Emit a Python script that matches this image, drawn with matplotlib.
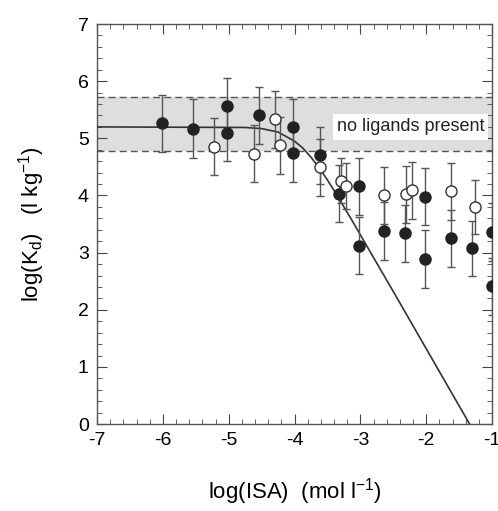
import numpy as np
import matplotlib
matplotlib.use("Agg")
import matplotlib.pyplot as plt
from matplotlib.ticker import MultipleLocator

plt.rcParams["font.family"] = ["Liberation Sans", "DejaVu Sans"]
plt.rcParams["axes.unicode_minus"] = False
plt.rcParams["mathtext.fontset"] = "custom"
plt.rcParams["mathtext.rm"] = "Liberation Sans"
plt.rcParams["mathtext.it"] = "Liberation Sans:italic"

# filled circles: log(ISA), log(Kd), error
filled_x = [-6.02, -5.55, -5.02, -5.02, -4.54, -4.02, -4.02, -3.62, -3.32, -3.02,
            -3.02, -2.64, -2.32, -2.02, -2.02, -1.62, -1.31, -1.0, -1.0]
filled_y = [5.26, 5.17, 5.56, 5.10, 5.40, 5.19, 4.74, 4.70, 4.03, 4.16,
            3.12, 3.38, 3.34, 3.98, 2.89, 3.25, 3.08, 3.36, 2.41]
filled_err = [0.50, 0.51, 0.50, 0.50, 0.50, 0.50, 0.50, 0.50, 0.50, 0.50,
              0.50, 0.50, 0.50, 0.50, 0.50, 0.50, 0.48, 0.50, 0.50]

# open circles
open_x = [-5.23, -4.62, -4.29, -4.22, -3.62, -3.30, -3.22, -2.64, -2.30, -2.22, -1.62, -1.26]
open_y = [4.85, 4.73, 5.33, 4.88, 4.49, 4.26, 4.17, 4.00, 4.02, 4.09, 4.07, 3.80]
open_err = [0.50, 0.50, 0.50, 0.50, 0.50, 0.40, 0.40, 0.50, 0.50, 0.50, 0.50, 0.47]

# model curve
curve_x = [-7.0, -4.75, -4.5, -4.25, -4.0, -3.875, -3.75, -3.625, -3.5, -3.375,
           -3.25, -3.125, -3.0, -2.5, -1.34]
curve_y = [5.20, 5.19, 5.17, 5.11, 4.95, 4.83, 4.67, 4.48, 4.27, 4.04,
           3.80, 3.56, 3.31, 2.32, 0.0]

# "no ligands present" range
band_lo = 4.77
band_hi = 5.72

fig = plt.figure(figsize=(4.98, 5.11), dpi=100)
ax = fig.add_axes([0.195, 0.170, 0.793, 0.783])

ax.axhspan(band_lo, band_hi, color="#dedede", lw=0, zorder=0)
ax.axhline(band_lo, color="#555555", lw=1.0, ls=(0, (5, 3)), zorder=1)
ax.axhline(band_hi, color="#555555", lw=1.0, ls=(0, (5, 3)), zorder=1)
ax.text(-2.24, 5.2, "no ligands present", fontsize=13, ha="center", va="center",
        color="#222222", zorder=2,
        bbox=dict(facecolor="white", edgecolor="none", pad=3))

ax.plot(curve_x, curve_y, color="#333333", lw=1.2, zorder=3)

ax.errorbar(filled_x, filled_y, yerr=filled_err, fmt="none", ecolor="#555555",
            elinewidth=1.0, capsize=3, capthick=1.0, zorder=4)
ax.errorbar(open_x, open_y, yerr=open_err, fmt="none", ecolor="#555555",
            elinewidth=1.0, capsize=3, capthick=1.0, zorder=4)
ax.plot(filled_x, filled_y, "o", ms=8, mfc="#222222", mec="#222222", zorder=5)
ax.plot(open_x, open_y, "o", ms=8, mfc="white", mec="#333333", mew=1.0, zorder=5)

ax.set_xlim(-7, -1)
ax.set_ylim(0, 7)
ax.xaxis.set_major_locator(MultipleLocator(1))
ax.xaxis.set_minor_locator(MultipleLocator(0.2))
ax.yaxis.set_major_locator(MultipleLocator(1))
ax.yaxis.set_minor_locator(MultipleLocator(0.2))
ax.tick_params(which="both", direction="in", top=True, right=True,
               labelsize=14, color="#444444")
ax.tick_params(which="major", length=7, pad=6)
ax.tick_params(which="minor", length=3.5)
for s in ax.spines.values():
    s.set_color("#555555")
    s.set_linewidth(1.0)

ax.set_xlabel(r"log(ISA)  (mol l$^\mathrm{-1}$)", fontsize=16, labelpad=19)
ax.set_ylabel(r"log(K$_\mathrm{d}$)   (l kg$^\mathrm{-1}$)", fontsize=16, labelpad=22)

fig.savefig("out.png", dpi=100)
